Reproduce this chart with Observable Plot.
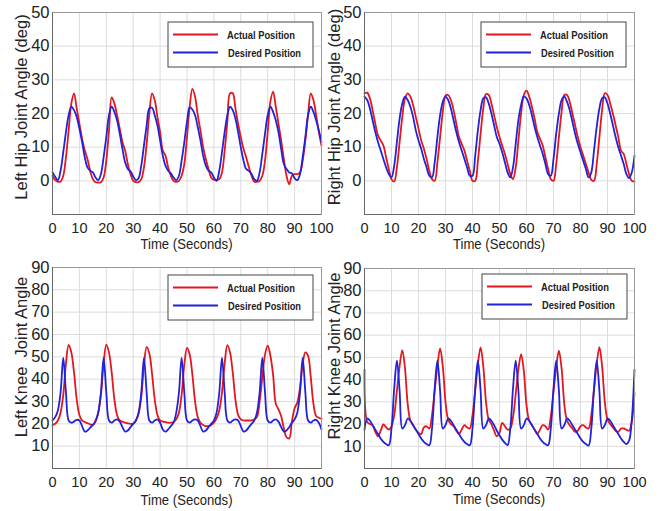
<!DOCTYPE html>
<html><head><meta charset="utf-8">
<script src="https://cdn.jsdelivr.net/npm/d3@7"></script>
<script src="https://cdn.jsdelivr.net/npm/@observablehq/plot@0.6"></script>
<style>
html,body{margin:0;padding:0;background:#fff;}
#wrap{position:relative;width:660px;height:511px;overflow:hidden;background:#fff;}
.panel{position:absolute;}
.panel svg{overflow:visible;display:block;}
</style></head><body><div id="wrap"></div>
<script>
// ---- data (seconds 0..100, one reading per second) ----
const time = d3.range(0, 101);

const leftHipActual = [1.5,0.2,-0.3,-0.2,1.5,7,15,23,26,21.5,
17,12.5,9,6.5,3,0.5,-0.4,-0.5,-0.4,1,
6,15,24.8,23,19.5,15.5,11.5,9,5,2,
0,-0.4,-0.4,0.5,4,11,20,26,24,19,
14.5,9,7.5,4,1.5,0,-0.3,0,1.5,5,
13,22,27.3,25,19.5,15,10,6.5,3.5,1,
0.3,0.3,0.5,2.5,9,17.5,26,26,21.5,17,
13,9.5,7,4,1.5,-0.3,-0.3,0,1.5,6,
14.5,23.5,26.5,22,17,12,6.5,1.5,-1,1.5,
2,2,2.5,6,12,19.5,26,24,19.5,14.5,
10.5];
const leftHipDesired = [2.5,1.2,0.2,3,8.5,14.5,19.5,22,21,19,
15.5,11.5,7,4,3,2.5,1,0.2,2,7,
13,19.5,22,20.5,18,14,9.5,5.5,3.5,2.8,
1.3,0.2,0.8,4.5,10.5,16.5,21.5,21.7,19.5,16.5,
12,7.5,4.5,3,2.2,1,0.2,1.5,6,11.5,
17.5,21.8,21.2,19.5,16,12,7.5,4.5,3,2.5,
1,0,3,8.5,14.5,19.5,22,21,18.5,14.5,
10,6,3.5,3,2,0.5,0,2.5,8,14,
19.5,22,20.5,18,14.5,9.5,5,3.5,2.5,2.2,
0.8,0.2,2,7,13,19.5,22,20.5,18,15,
11.5];
const rightHipActual = [26,26.2,24.5,21,17,13.5,12,10.5,7,3.5,
0.5,-0.2,4,11.5,19,24.5,26,25,22.5,19,
15.5,12,9.5,6.5,3,0.5,0,5.5,13,20.5,
25.3,25.5,24,21,17,13,11,9,6,3,
0,0,6,14,21.5,25.8,25.5,23,19.5,16,
13,10.5,8,5,2,0.5,4,12,20,25.5,
26.8,25,22,18.5,14.5,12.5,10.5,7,3.5,0.5,
0,5,13,20.5,25.5,25.5,23.5,20,16.5,13,
10,7.5,5,2.5,0.3,0,5,13,21,26,
25.5,23,20,16.5,13,9,8,5,2,0,
-0.2];
const rightHipDesired = [25,24,21.5,18,14.5,11.5,9,6.5,4,2,
1,4.5,11.5,18.5,23,25,24,22,19,15,
12,9.5,6.5,4,1.5,1,5.5,13,19.5,23.5,
25,24,21.5,18,14.5,11.5,9,6.5,4,1.5,
1.5,7.5,15,21,24.5,24.8,23,20,16.5,13,
11,8.5,5.5,2.5,1,4,11,18,22.5,25,
24.5,22.5,19.5,16,13,10.5,8,5,2,1.5,
6.5,14,20,24,25,23.5,21,17.5,14,11,
8.5,6,3.5,1,2.5,9,16,21.5,24.5,24.8,
23,20,16.5,13,10,7.5,5,2,0.8,2.5,
7.5];
const leftKneeActual = [19.5,20,21.5,25,33,47,55.3,52,43,31,
24,21.5,20.8,20.3,19.8,19.5,21.5,25,33,47,
55.5,52,43,31,24,21.5,21,20.5,20.2,20,
20,21.5,24.5,32,46,54.5,51.5,42.5,31,24,
21.5,21,20.8,20.5,20.5,20.8,22,25,33,46.5,
54,51,42,30,23,20.5,19.5,19,19,19.5,
20.5,22.5,26,34,47,55.2,52,43,31,24,
22,21.5,21.5,21.5,21.5,22,23,30,41,51,
55,50.5,42,29,26.5,23.5,18,14,13.5,21,
27,29.5,36,46.5,52,50.5,41,29,23.5,22.7,
22.3];
const leftKneeDesired = [21.5,23,26,34,49.5,34,21.5,20.5,21,21.8,
21.5,19,16.5,17,18.3,19.5,21,25,34,49.5,
34,21.5,20.5,21.5,22,21,18.5,16.5,17,18.5,
20,21.5,25,34,49.5,34,21.5,20.5,21.5,22,
20.5,17.5,16.5,17.5,19,20.5,25,34,49.5,34,
21.5,20.5,21.5,22,21.5,19,16.5,17,18.5,20,
21.5,25,34,49.5,34,21.5,20.5,21.5,22,21.5,
19,16.5,17,18.5,20,21.5,25,34,49.5,34,
21.5,20.5,21.5,22,21,18.5,16.5,17,18.5,20.5,
22,25,34,49.5,34,21.5,20.5,21.5,21.8,20.5,
17.5];
const rightKneeActual = [44.5,21,20,19.5,16.5,14.5,17,19.8,18.5,17.5,
19,24,35,46,53.3,45,29,21.5,19.5,17.5,
16,15.5,18.5,19,18,24,35,46,54,46,
30,22,20,19,17,15.5,17.5,19.5,18.5,18,
24,35,47,54.5,46,30,22,20,17,14.5,
16,20.5,19,17.5,18,23,33.5,44.5,51.5,44,
28.5,21.5,19.5,17.5,15.5,17.5,19.5,19,17.5,23.5,
34.5,45.5,53,45,29,21.5,19.5,18,16.5,17,
19,19.5,18.5,18,24,35.5,47,54.6,46,30,
22,20,18.5,17,16.5,18,18,17.5,17,21,
34];
const rightKneeDesired = [17.5,22.5,21.5,19.5,17.5,15.5,13.5,12,11,10.5,
18,36,48.5,35,18,19.5,22.5,21.5,19.5,17.5,
15.5,13.5,12,11,10.5,18,36,48.5,35,18,
19.5,22.5,21.5,19.5,17.5,15.5,13.5,12,11,10.5,
18,36,48.5,35,18,19.5,22.5,21.5,19.5,17,
15,13,11.5,10.5,18,36,48.5,35,18,19.5,
22.5,21.5,19.5,17.5,15.5,13.5,12,11,10.5,18,
36,48.5,35,18,19.5,22.5,21.5,19.5,17.5,15.5,
13.5,12,11,10.3,18,36,48.5,35,18,19.5,
22.5,21.5,19.5,17.5,15.5,13.5,12,11,12.5,22,
44.5];

// ---- ticks & labels ----
const xTicks = [0,10,20,30,40,50,60,70,80,90,100];
const hipTicks = [0,10,20,30,40,50];
const hipGrid = [-10,0,10,20,30,40,50];
const kneeTicks = [10,20,30,40,50,60,70,80,90];
const kneeGrid = [0,10,20,30,40,50,60,70,80,90];
const seriesNames = ["Actual Position", "Desired Position"];
const seriesColors = ["#e4161e", "#2222d8"];
const xLabel = "Time (Seconds)";
const yLabels = ["Left Hip Joint Angle (deg)", "Right Hip Joint Angle (deg)", "Left Knee  Joint Angle", "Right Knee Joint Angle"];

const panels = [
  {yl: yLabels[0], a: leftHipActual, d: leftHipDesired, dom: [-10,50], ticks: hipTicks, grid: hipGrid,
   left: 0, top: 0, ml: 52, mr: 9, mt: 12, mb: 41, lg: [168, 22], ylx: 27, yly: 107, xly: 249},
  {yl: yLabels[1], a: rightHipActual, d: rightHipDesired, dom: [-10,50], ticks: hipTicks, grid: hipGrid,
   left: 330, top: 0, ml: 34, mr: 26, mt: 12, mb: 41, lg: [151, 22], ylx: 10, yly: 107, xly: 248.5},
  {yl: yLabels[2], a: leftKneeActual, d: leftKneeDesired, dom: [0,90], ticks: kneeTicks, grid: kneeGrid,
   left: 0, top: 255, ml: 52, mr: 9, mt: 12, mb: 42, lg: [168, 20], ylx: 27, yly: 102, xly: 249.5},
  {yl: yLabels[3], a: rightKneeActual, d: rightKneeDesired, dom: [0,90], ticks: kneeTicks, grid: kneeGrid,
   left: 330, top: 255, ml: 34, mr: 26, mt: 13, mb: 42, lg: [152, 19], ylx: 10, yly: 101, xly: 248.5}
];

const wrap = document.getElementById("wrap");
const FONT = "'Liberation Sans', Arial, sans-serif";

for (const p of panels) {
  const rows = [];
  [p.a, p.d].forEach((vals, s) => time.forEach((t, i) => rows.push({t, v: vals[i], s: seriesNames[s]})));
  const chart = Plot.plot({
    width: 330, height: 255,
    marginLeft: p.ml, marginRight: p.mr, marginTop: p.mt, marginBottom: p.mb,
    style: {fontFamily: FONT, fontSize: "16.5px", color: "#222", background: "transparent", overflow: "visible"},
    x: {domain: [0, 100]},
    y: {domain: p.dom},
    color: {domain: seriesNames, range: seriesColors},
    marks: [
      Plot.gridX(xTicks, {stroke: "#dcdcdc", strokeOpacity: 1}),
      Plot.gridY(p.grid, {stroke: "#dcdcdc", strokeOpacity: 1}),
      Plot.line(rows, {x: "t", y: "v", z: "s", stroke: "s", strokeWidth: 1.8, curve: "catmull-rom"}),
      Plot.frame({stroke: "#999"}),
      Plot.ruleX([0], {stroke: "#666"}),
      Plot.ruleY([p.dom[0]], {stroke: "#666"}),
      Plot.axisX(xTicks, {tickSize: 0, tickPadding: 8, label: null, fontSize: 14.5}),
      Plot.axisY(p.ticks, {tickSize: 0, tickPadding: 3, label: null, fontSize: 16.5})
    ]
  });
  const div = document.createElement("div");
  div.className = "panel";
  div.style.left = p.left + "px";
  div.style.top = p.top + "px";
  div.appendChild(chart);
  wrap.appendChild(div);

  const svg = d3.select(chart);
  // axis titles
  svg.append("text").text(p.yl)
    .attr("transform", `translate(${p.ylx},${p.yly}) rotate(-90)`)
    .attr("text-anchor", "middle").attr("font-size", 16.5).attr("fill", "#222")
    .style("white-space", "pre");
  svg.append("text").text(xLabel)
    .attr("x", (p.ml + 330 - p.mr) / 2).attr("y", p.xly)
    .attr("text-anchor", "middle").attr("font-size", 15.5).attr("fill", "#222")
    .attr("textLength", 92).attr("lengthAdjust", "spacingAndGlyphs");
  // legend
  const g = svg.append("g").attr("transform", `translate(${p.lg[0]},${p.lg[1]})`).attr("text-anchor", "start");
  g.append("rect").attr("width", 145).attr("height", 45).attr("fill", "#fff").attr("stroke", "#444").attr("stroke-width", 1);
  const lens = [68, 73];
  seriesNames.forEach((name, i) => {
    const yy = 12.5 + i * 18;
    g.append("line").attr("x1", 5).attr("x2", 50).attr("y1", yy).attr("y2", yy)
      .attr("stroke", seriesColors[i]).attr("stroke-width", 2);
    g.append("text").text(name).attr("x", 59 + i).attr("y", yy + 4)
      .attr("text-anchor", "start")
      .attr("font-size", 11).attr("font-weight", "bold").attr("fill", "#222")
      .attr("textLength", lens[i]).attr("lengthAdjust", "spacingAndGlyphs");
  });
}
</script></body></html>
